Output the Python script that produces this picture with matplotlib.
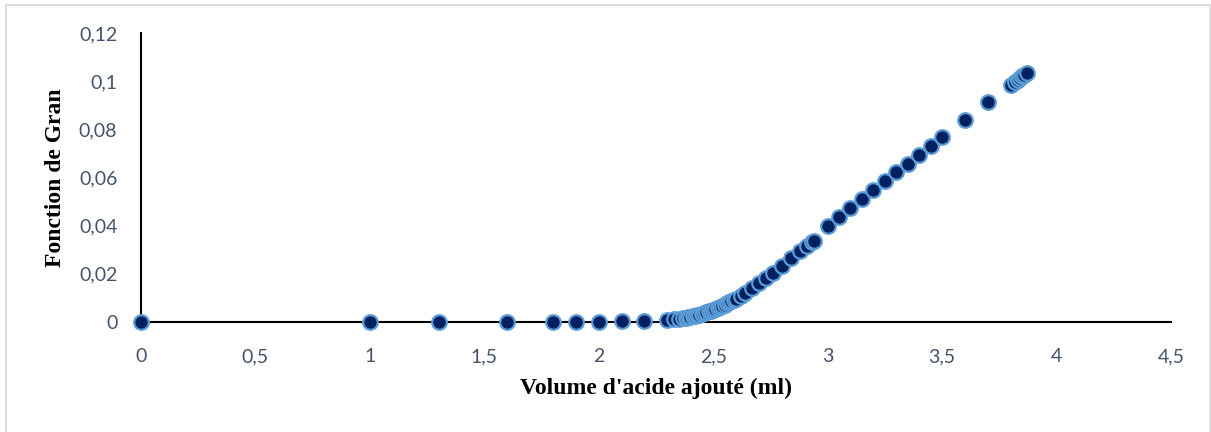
import matplotlib
matplotlib.use("Agg")
import matplotlib.pyplot as plt
from matplotlib.patches import Rectangle

# volume d'acide ajouté (ml) et fonction de Gran
volume = [0, 1.0, 1.3, 1.6, 1.8, 1.9, 2.0, 2.1, 2.2, 2.3, 2.33, 2.35, 2.37, 2.38,
          2.39, 2.40, 2.41, 2.42, 2.43, 2.44, 2.45, 2.46, 2.47, 2.48, 2.49, 2.50,
          2.51, 2.52, 2.53, 2.54, 2.55, 2.56, 2.57, 2.58, 2.59, 2.60, 2.62, 2.64,
          2.67, 2.70, 2.73, 2.76, 2.80, 2.84, 2.88, 2.91, 2.93, 2.94, 3.00, 3.05,
          3.10, 3.15, 3.20, 3.25, 3.30, 3.35, 3.40, 3.45, 3.50, 3.60, 3.70, 3.80,
          3.82, 3.83, 3.84, 3.85, 3.86, 3.87]
gran = [0, 0.00001, 0.00002, 0.00004, 0.0001, 0.00015, 0.0002, 0.0003, 0.0005,
        0.0008, 0.0011, 0.0013, 0.0015, 0.0017, 0.0019, 0.0021, 0.0023, 0.0026,
        0.0028, 0.0031, 0.0034, 0.0037, 0.0040, 0.0044, 0.0047, 0.0051, 0.0055,
        0.0059, 0.0063, 0.0068, 0.0072, 0.0077, 0.0082, 0.0087, 0.0092, 0.0097,
        0.0108, 0.0121, 0.0140, 0.0161, 0.0183, 0.0205, 0.0234, 0.0264, 0.0293,
        0.0316, 0.0331, 0.0338, 0.0398, 0.0436, 0.0473, 0.0510, 0.0547, 0.0584,
        0.0621, 0.0658, 0.0695, 0.0732, 0.0769, 0.0840, 0.0914, 0.0985, 0.0998,
        0.1005, 0.1012, 0.1020, 0.1027, 0.1034]

x_ticks = [0, 0.5, 1, 1.5, 2, 2.5, 3, 3.5, 4, 4.5]
x_labels = ["0", "0,5", "1", "1,5", "2", "2,5", "3", "3,5", "4", "4,5"]
y_ticks = [0, 0.02, 0.04, 0.06, 0.08, 0.1, 0.12]
y_labels = ["0", "0,02", "0,04", "0,06", "0,08", "0,1", "0,12"]

fig = plt.figure(figsize=(12.11, 4.32), dpi=100)
ax = fig.add_axes([0.1164, 0.2546, 0.8505, 0.669])

fig.patches.append(Rectangle((0.005, -0.1), 0.994, 1.088, transform=fig.transFigure,
                             fill=False, edgecolor="#D9D9D9", linewidth=1.2))

ax.plot(volume, gran, linestyle="none", marker="o", markersize=10.5,
        markerfacecolor="#002060", markeredgecolor="#5B9BD5", markeredgewidth=1.6,
        clip_on=False, zorder=3)

ax.set_xlim(0, 4.5)
ax.set_ylim(0, 0.12)
ax.set_xticks(x_ticks)
ax.set_xticklabels(x_labels)
ax.set_yticks(y_ticks)
ax.set_yticklabels(y_labels)
ax.tick_params(length=0, labelsize=14, labelcolor="#44546A")
ax.tick_params(axis="x", pad=19)
ax.tick_params(axis="y", pad=17)
for lab in ax.get_xticklabels() + ax.get_yticklabels():
    lab.set_family("Lato")

for s in ["top", "right"]:
    ax.spines[s].set_visible(False)
for s in ["left", "bottom"]:
    ax.spines[s].set_linewidth(1.5)
    ax.spines[s].set_color("black")

ax.set_xlabel("Volume d'acide ajouté (ml)", family="Liberation Serif",
              fontweight="bold", fontsize=17, labelpad=9)
ax.set_ylabel("Fonction de Gran", family="Liberation Serif",
              fontweight="bold", fontsize=17, labelpad=9)

fig.savefig("out.png", dpi=100)
